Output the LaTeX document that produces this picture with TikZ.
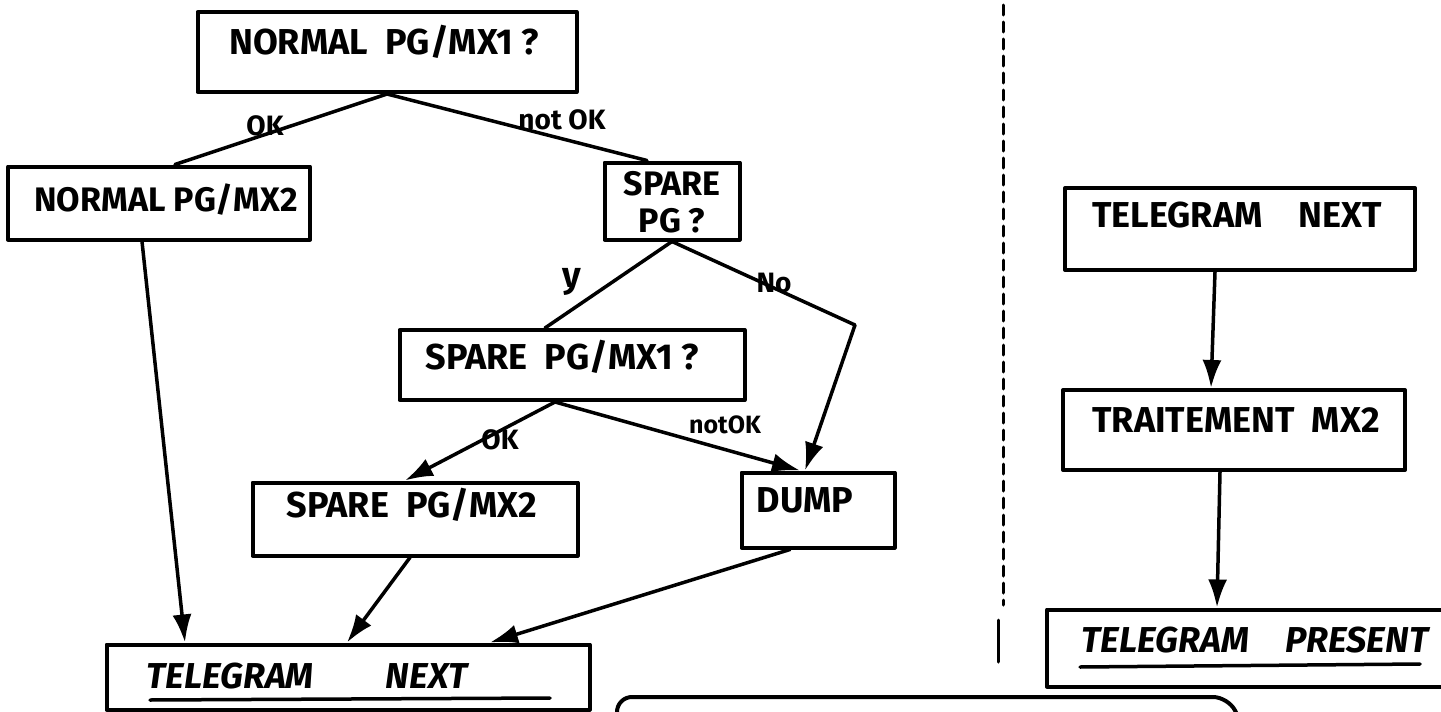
\documentclass[tikz,border=0pt]{standalone}
\usepackage{fontspec}
\setmainfont{Fira Sans}
\usetikzlibrary{arrows.meta}
\begin{document}
\begin{tikzpicture}[x=1pt,y=-1pt, line join=round, line cap=round,
  boxstyle/.style={draw, line width=4pt, rectangle, inner sep=0pt},
  txt/.style={font=\fontsize{36}{40}\selectfont\bfseries, inner sep=0pt},
  itxt/.style={font=\fontsize{36}{40}\selectfont\bfseries\itshape, inner sep=0pt},
  lbl/.style={font=\fontsize{28}{30}\selectfont\bfseries, inner sep=0pt},
  conn/.style={line width=3.5pt},
  arr/.style={conn, -{Latex[length=28pt,width=19pt]}}]
\clip (0,0) rectangle (1441,712);
\fill[white] (0,0) rectangle (1441,712);
% boxes
\node[boxstyle, minimum width=379pt, minimum height=80pt] (n1) at (387,52) {};
\node[boxstyle, minimum width=302pt, minimum height=73pt] (n2) at (159,203) {};
\node[boxstyle, minimum width=135pt, minimum height=77pt] (n3) at (672,201) {};
\node[boxstyle, minimum width=345pt, minimum height=70pt] (n4) at (572,365) {};
\node[boxstyle, minimum width=325pt, minimum height=73pt] (n5) at (415,519) {};
\node[boxstyle, minimum width=153pt, minimum height=75pt] (n6) at (818,510) {};
\node[boxstyle, minimum width=483pt, minimum height=65pt] (n7) at (348,677) {};
\node[boxstyle, minimum width=350pt, minimum height=82pt] (n8) at (1240,229) {};
\node[boxstyle, minimum width=342pt, minimum height=80pt] (n9) at (1234,430) {};
\node[boxstyle, minimum width=414pt, minimum height=77pt] (n10) at (1254,648) {};
% texts
\node[txt] (t1) at (384,42) {NORMAL\ \ PG/MX1 ?};
\node[txt, font=\fontsize{34}{38}\selectfont\bfseries] (t2) at (166,200) {NORMAL PG/MX2};
\node[txt, align=center, font=\fontsize{34}{37}\selectfont\bfseries] (t3) at (672,202) {SPARE\\PG ?};
\node[txt] (t4) at (562,357) {SPARE\ \ PG/MX1 ?};
\node[txt] (t5) at (412,505) {SPARE\ \ PG/MX2};
\node[txt] (t6) at (805,500) {DUMP};
\node[itxt] (t7) at (307,676) {TELEGRAM\quad\quad NEXT};
\node[txt] (t8) at (1237,215) {TELEGRAM\quad NEXT};
\node[txt] (t9) at (1236,420) {TRAITEMENT\ \ MX2};
\node[itxt] (t10) at (1255,640) {TELEGRAM\quad PRESENT};
% underlines
\draw[line width=3.5pt] (150,700) -- (550,698);
\draw[line width=3.5pt] (1080,667) -- (1420,664);
% labels
\node[lbl] (l1) at (265,126) {OK};
\node[lbl] (l2) at (562,120) {not OK};
\node[lbl, font=\fontsize{36}{38}\selectfont\bfseries] (l3) at (572,282) {y};
\node[lbl] (l4) at (774,283) {No};
\node[lbl] (l5) at (500,440) {OK};
\node[lbl, font=\fontsize{25}{28}\selectfont\bfseries] (l6) at (725,425) {notOK};
% connectors
\coordinate (k) at (855,325);
\draw[conn] (n1.south) -- ([xshift=16pt]n2.north);
\draw[conn] (n1.south) -- ([xshift=-25pt]n3.north);
\draw[arr] ([xshift=-17pt]n2.south) -- ([xshift=-163pt]n7.north);
\draw[conn] (n3.south) -- ([xshift=-27pt]n4.north);
\draw[arr] (n3.south) -- (k) -- ([xshift=-13pt]n6.north);
\draw[arr] ([xshift=-17pt]n4.south) -- ([xshift=-10pt]n5.north);
\draw[arr] ([xshift=-17pt]n4.south) -- ([xshift=-18pt]n6.north);
\draw[arr] ([xshift=-5pt]n5.south) -- ([xshift=-1pt]n7.north);
\draw[arr] ([xshift=-28pt]n6.south) -- ([xshift=142pt]n7.north);
\draw[arr] ([xshift=-25pt]n8.south) -- ([xshift=-23pt]n9.north);
\draw[arr] ([xshift=-14pt]n9.south) -- ([xshift=-37pt]n10.north);
% separator
\draw[line width=3pt, dash pattern=on 10pt off 7pt] (1003,5) -- (1003,605);
\draw[line width=3pt] (998,620) -- (998,662);
% bottom frame
\draw[line width=4pt, rounded corners=15pt] (617,720) -- (617,697) -- (1228,697) -- (1240,720);
\end{tikzpicture}
\end{document}
